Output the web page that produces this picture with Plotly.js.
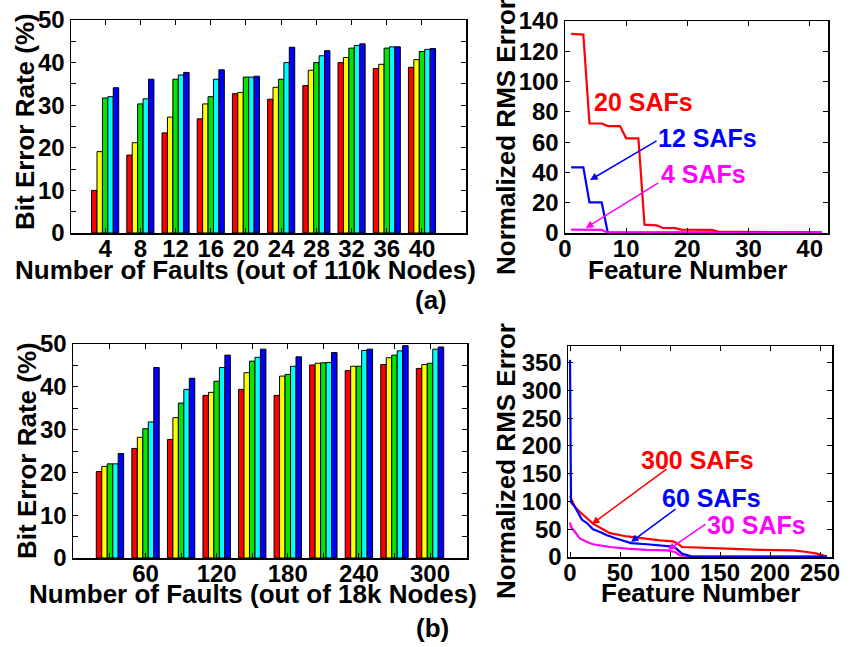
<!DOCTYPE html>
<html><head><meta charset="utf-8">
<script src="https://cdn.plot.ly/plotly-3.0.1.min.js"></script>
<style>html,body{margin:0;padding:0;background:#fff}#chart{width:858px;height:647px}</style>
</head><body><div id="chart"></div>
<script>
// ---------- (a) bar chart: 110k nodes ----------
const faultsA = [4, 8, 12, 16, 20, 24, 28, 32, 36, 40];
const berA_red    = [10.0, 18.3, 23.5, 26.8, 32.7, 31.4, 34.6, 40.0, 38.6, 38.9];
const berA_yellow = [19.1, 21.2, 27.2, 30.3, 33.0, 34.2, 38.2, 41.2, 39.6, 40.7];
const berA_green  = [31.7, 30.3, 36.1, 32.0, 36.6, 36.1, 40.0, 43.4, 43.4, 42.6];
const berA_cyan   = [32.0, 31.5, 37.1, 36.1, 36.6, 40.0, 41.6, 44.0, 43.7, 43.1];
const berA_blue   = [34.1, 36.1, 37.7, 38.3, 36.8, 43.6, 42.8, 44.4, 43.7, 43.3];

// ---------- (b) bar chart: 18k nodes ----------
const faultsB = [30, 60, 90, 120, 150, 180, 210, 240, 270, 300];
const berB_red    = [20.2, 25.6, 27.7, 38.0, 39.4, 38.0, 45.1, 43.8, 45.2, 44.3];
const berB_yellow = [21.4, 28.2, 32.8, 38.7, 43.3, 42.5, 45.5, 44.8, 46.8, 45.2];
const berB_green  = [22.0, 30.2, 36.2, 41.3, 46.0, 42.9, 45.6, 44.8, 47.4, 45.5];
const berB_cyan   = [22.0, 31.8, 39.4, 44.5, 46.9, 44.8, 45.7, 48.5, 48.4, 48.8];
const berB_blue   = [24.4, 44.5, 42.0, 47.4, 48.8, 47.0, 48.0, 48.8, 49.6, 49.3];

// ---------- (a) RMS error vs feature number ----------
const featA = [1,2,3,4,5,6,7,8,9,10,11,12,13,14,15,16,17,18,19,20,21,22,23,24,25,26,27,28,29,30,31,32,33,34,35,36,37,38,39,40,41,42];
const rms20 = [131.5,131.3,131.0,72.4,72.4,72.3,70.6,70.6,70.6,62.5,62.5,62.5,5.5,5.4,5.0,3.3,3.3,3.2,2.2,2.2,2.2,2.2,2.2,2.1,1.0,0.9,0.8,0.8,0.7,0.6,0.6,0.5,0.5,0.5,0.4,0.4,0.4,0.3,0.3,0.3,0.3,0.3];
const rms12 = [43.4,43.4,43.4,20.2,20.2,20.2,0.2,0.2,0.2,0.2,0.2,0.2,0.2,0.2,0.2,0.2,0.2,0.2,0.2,0.2,0.2,0.2,0.2,0.2,0.2,0.2,0.2,0.2,0.2,0.2,0.2,0.2,0.2,0.2,0.2,0.2,0.2,0.2,0.2,0.2,0.2,0.2];
const rms4  = [2.2,2.2,2.2,2.2,2.1,2.0,0.2,0.2,0.2,0.2,0.2,0.2,0.2,0.2,0.2,0.2,0.2,0.2,0.2,0.2,0.2,0.2,0.2,0.2,0.2,0.2,0.2,0.2,0.2,0.2,0.2,0.2,0.2,0.2,0.2,0.2,0.2,0.2,0.2,0.2,0.2,0.2];

// ---------- (b) RMS error vs feature number ----------
const feat300 = [0, 5, 10, 17, 23, 32, 40, 57, 73, 90, 103, 108, 112, 123, 157, 190, 223, 237, 247, 257];
const rms300  = [110, 90, 81, 69, 60, 51, 43, 37, 33, 30, 28, 24, 18, 17, 15, 13, 12, 9, 6, 1];
const feat60  = [0, 1, 5, 10, 12, 17, 23, 30, 37, 47, 61, 77, 90, 100, 105, 112, 123, 257];
const rms60   = [355, 99, 90, 75, 67, 61, 50, 45, 39, 33, 25, 23, 21, 19, 17, 6, 0.5, 0.5];
const feat30  = [0, 1, 5, 10, 17, 23, 40, 57, 77, 97, 105, 110, 123, 257];
const rms30   = [62, 54, 45, 33, 27, 23, 18, 15, 13, 12, 9, 3, 0.5, 0.5];

const barColors = ['#ff0000', '#ffff00', '#00e600', '#00ffff', '#0000ff'];
const barNames = ['Red', 'Yellow', 'Green', 'Cyan', 'Blue'];
const FONT = 'Liberation Sans, Arial, Helvetica, sans-serif';

const idxA = faultsA.map((_, i) => i + 1);
const idxB = faultsB.map((_, i) => i + 1);

const traces = [];
[berA_red, berA_yellow, berA_green, berA_cyan, berA_blue].forEach((ys, k) => {
  traces.push({type: 'bar', x: idxA, y: ys, xaxis: 'x', yaxis: 'y', name: barNames[k],
    marker: {color: barColors[k], line: {color: '#000', width: 1}}, showlegend: false});
});
[berB_red, berB_yellow, berB_green, berB_cyan, berB_blue].forEach((ys, k) => {
  traces.push({type: 'bar', x: idxB, y: ys, xaxis: 'x2', yaxis: 'y2', name: barNames[k],
    marker: {color: barColors[k], line: {color: '#000', width: 1}}, showlegend: false});
});
traces.push({type: 'scatter', mode: 'lines', x: featA, y: rms20, xaxis: 'x3', yaxis: 'y3', name: '20 SAFs', line: {color: '#ff0000', width: 2.2}, showlegend: false});
traces.push({type: 'scatter', mode: 'lines', x: featA, y: rms12, xaxis: 'x3', yaxis: 'y3', name: '12 SAFs', line: {color: '#0000ff', width: 2.2}, showlegend: false});
traces.push({type: 'scatter', mode: 'lines', x: featA, y: rms4, xaxis: 'x3', yaxis: 'y3', name: '4 SAFs', line: {color: '#ff00ff', width: 2.2}, showlegend: false});
traces.push({type: 'scatter', mode: 'lines', x: feat300, y: rms300, xaxis: 'x4', yaxis: 'y4', name: '300 SAFs', line: {color: '#ff0000', width: 2.2}, showlegend: false});
traces.push({type: 'scatter', mode: 'lines', x: feat30, y: rms30, xaxis: 'x4', yaxis: 'y4', name: '30 SAFs', line: {color: '#ff00ff', width: 2.2}, showlegend: false});
traces.push({type: 'scatter', mode: 'lines', x: feat60, y: rms60, xaxis: 'x4', yaxis: 'y4', name: '60 SAFs', line: {color: '#0000ff', width: 2.2}, showlegend: false});

const tickFont = {family: FONT, size: 24, color: '#000', weight: 'bold'};
function ax(extra) {
  return Object.assign({
    showline: true, linecolor: '#000', linewidth: 1.5, mirror: 'ticks',
    ticks: 'inside', ticklen: 5, tickwidth: 1, tickcolor: '#000',
    showgrid: false, zeroline: false, tickfont: tickFont, fixedrange: true
  }, extra);
}

const layout = {
  width: 858, height: 647, autosize: false,
  margin: {l: 0, r: 0, t: 0, b: 0},
  paper_bgcolor: '#fff', plot_bgcolor: '#fff',
  barmode: 'group', bargap: 0.23, bargroupgap: 0,
  xaxis: ax({domain: [71/858, 466/858], range: [0.03, 11.25], anchor: 'y', ticklabelstandoff: -6,
    tickmode: 'array', tickvals: idxA, ticktext: faultsA.map(String)}),
  yaxis: ax({domain: [1 - 233/647, 1 - 20/647], range: [0, 50], dtick: 10, anchor: 'x',
    minor: {dtick: 5, ticks: 'inside', ticklen: 5, tickcolor: '#000'}}),
  xaxis2: ax({domain: [73/858, 467/858], range: [-0.04, 11.04], anchor: 'y2', ticklabelstandoff: -6,
    tickmode: 'array', tickvals: idxB, ticktext: faultsB.map(v => v % 60 === 0 ? String(v) : '')}),
  yaxis2: ax({domain: [1 - 558/647, 1 - 344/647], range: [0, 50], dtick: 10, anchor: 'x2',
    minor: {dtick: 5, ticks: 'inside', ticklen: 5, tickcolor: '#000'}}),
  xaxis3: ax({domain: [565/858, 828/858], range: [0, 43], dtick: 10, anchor: 'y3', ticklabelstandoff: -6}),
  yaxis3: ax({domain: [1 - 233/647, 1 - 21/647], range: [0, 140], dtick: 20, anchor: 'x3'}),
  xaxis4: ax({domain: [568/858, 832/858], range: [-2, 262], dtick: 50, anchor: 'y4', ticklabelstandoff: -6}),
  yaxis4: ax({domain: [1 - 557/647, 1 - 346/647], range: [0, 380], dtick: 50, anchor: 'x4'}),
  annotations: []
};

const tFont = {family: FONT, size: 26, color: '#000', weight: 'bold'};
function ptxt(text, x, y, rot) {
  return {text: text, xref: 'paper', yref: 'paper', x: x/858, y: 1 - y/647,
    xanchor: 'center', yanchor: 'middle', showarrow: false, font: tFont, textangle: rot || 0};
}
layout.annotations.push(ptxt('Bit Error Rate (%)', 25, 122, -90));
layout.annotations.push(ptxt('Number of Faults (out of 110k Nodes)', 245, 270));
layout.annotations.push(ptxt('(a)', 431, 300));
layout.annotations.push(ptxt('Bit Error Rate (%)', 27, 451, -90));
layout.annotations.push(ptxt('Number of Faults (out of 18k Nodes)', 253, 594));
layout.annotations.push(ptxt('(b)', 432, 628));
layout.annotations.push(ptxt('Normalized RMS Error', 506, 137, -90));
layout.annotations.push(ptxt('Feature Number', 687, 270));
layout.annotations.push(ptxt('Normalized RMS Error', 506, 461, -90));
layout.annotations.push(ptxt('Feature Number', 700, 593));

function dtxt(text, xr, yr, x, y, color) {
  return {text: text, xref: xr, yref: yr, x: x, y: y, xanchor: 'center', yanchor: 'middle',
    showarrow: false, font: {family: FONT, size: 25, color: color, weight: 'bold'}};
}
function arrow(xr, yr, x, y, dx, dy, color) {
  return {text: '', xref: xr, yref: yr, x: x, y: y, ax: dx, ay: dy, axref: 'pixel', ayref: 'pixel',
    showarrow: true, arrowhead: 2, arrowsize: 1, arrowwidth: 1.5, arrowcolor: color};
}
layout.annotations.push(dtxt('20 SAFs', 'x3', 'y3', 12.85, 86.5, '#ff0000'));
layout.annotations.push(dtxt('12 SAFs', 'x3', 'y3', 23.3, 62.7, '#0000ff'));
layout.annotations.push(dtxt('4 SAFs', 'x3', 'y3', 22.6, 39, '#ff00ff'));
layout.annotations.push(arrow('x3', 'y3', 4.1, 35, 68, -40, '#0000ff'));
layout.annotations.push(arrow('x3', 'y3', 3.4, 3.3, 74, -46, '#ff00ff'));

layout.annotations.push(dtxt('300 SAFs', 'x4', 'y4', 127, 175, '#ff0000'));
layout.annotations.push(dtxt('60 SAFs', 'x4', 'y4', 141, 106, '#0000ff'));
layout.annotations.push(dtxt('30 SAFs', 'x4', 'y4', 186, 58, '#ff00ff'));
layout.annotations.push(arrow('x4', 'y4', 22, 59.5, 76, -56, '#ff0000'));
layout.annotations.push(arrow('x4', 'y4', 61, 27, 46, -34, '#0000ff'));
layout.annotations.push(arrow('x4', 'y4', 98, 12.6, 39, -27, '#ff00ff'));

Plotly.newPlot('chart', traces, layout, {staticPlot: true, displayModeBar: false});
</script>
</body></html>
